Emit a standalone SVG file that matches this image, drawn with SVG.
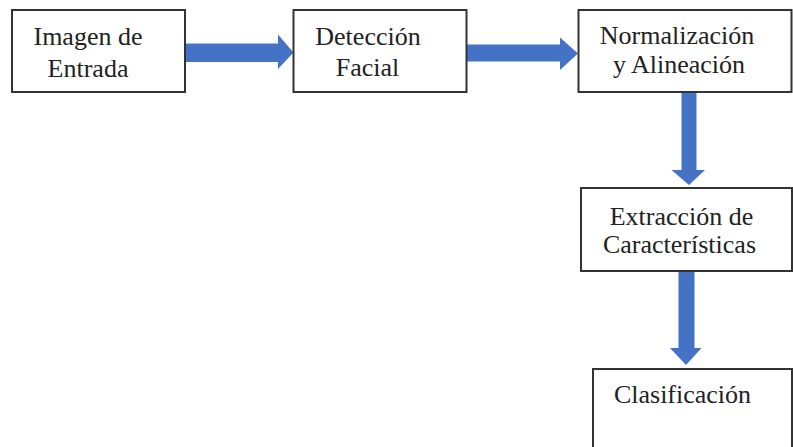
<svg xmlns="http://www.w3.org/2000/svg" width="793" height="447" viewBox="0 0 793 447">
<style>
.box{fill:#fff;stroke:#333;stroke-width:2}
.lbl{font-family:"Liberation Serif","Times New Roman",serif;font-size:26px;fill:#222;text-anchor:middle}
.arr{fill:#4472C4}
</style>
<rect width="793" height="447" fill="#fff"/>
<g id="connectors">
<polygon class="arr" points="185,43.5 278,43.5 278,34.5 293.5,52.5 278,69 278,62 185,62"/>
<polygon class="arr" points="467,44.5 560,44.5 560,37.5 578,53.5 560,70 560,61.5 467,61.5"/>
<polygon class="arr" points="681.5,92 696.5,92 696.5,170 705,170 689,185 671.5,170 681.5,170"/>
<polygon class="arr" points="678.5,271 694.5,271 694.5,348 701.5,348 686,365 670,348 678.5,348"/>
</g>
<g id="n1"><rect class="box" x="12" y="10" width="173" height="82"/>
<text class="lbl" x="88" y="45">Imagen de</text><text class="lbl" x="88" y="77">Entrada</text></g>
<g id="n2"><rect class="box" x="293.5" y="10" width="173" height="82"/>
<text class="lbl" x="368" y="45">Detección</text><text class="lbl" x="367.5" y="76">Facial</text></g>
<g id="n3"><rect class="box" x="578.5" y="10" width="213" height="82"/>
<text class="lbl" x="677" y="44">Normalización</text><text class="lbl" x="679" y="73">y Alineación</text></g>
<g id="n4"><rect class="box" x="581" y="188" width="211" height="83"/>
<text class="lbl" x="681.5" y="225">Extracción de</text><text class="lbl" x="679.5" y="253">Características</text></g>
<g id="n5"><rect class="box" x="593" y="369" width="199" height="90"/>
<text class="lbl" x="682.5" y="403">Clasificación</text></g>
</svg>
